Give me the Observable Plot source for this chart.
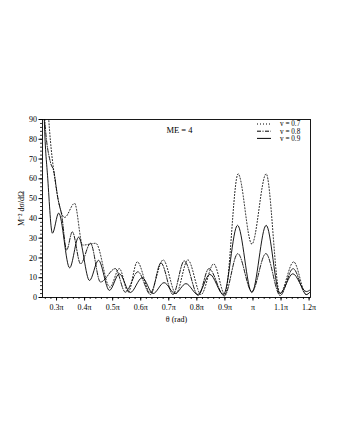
<!DOCTYPE html>
<html><head><meta charset="utf-8">
<script src="https://cdn.jsdelivr.net/npm/d3@7"></script>
<script src="https://cdn.jsdelivr.net/npm/@observablehq/plot@0.6"></script>
<style>
body{margin:0;background:#fff;}
#wrap{position:relative;width:340px;height:440px;}
#legend{position:absolute;left:254px;top:119px;}
</style>
</head><body><div id="wrap"></div>
<script>
// series labels
const seriesNames = ["v = 0.7", "v = 0.8", "v = 0.9"];

// θ in units of π, values of M^-2 dσ/dΩ
const theta07 = [0.25, 0.2723, 0.2971, 0.329, 0.3644, 0.393, 0.44, 0.49, 0.5238, 0.5557, 0.5876, 0.6336, 0.68, 0.7257, 0.768, 0.815, 0.86, 0.9, 0.947, 0.996, 1.047, 1.096, 1.145, 1.19, 1.205];
const value07 = [150, 90, 57, 40.5, 47.6, 26.5, 27.4, 5.2, 14.6, 2.7, 18, 2.5, 19, 2, 19, 1.5, 17, 1.5, 62.5, 27, 62.5, 2, 18, 1.5, 3];

const theta08 = [0.25, 0.258, 0.279, 0.29, 0.305, 0.318, 0.336, 0.3563, 0.3857, 0.4211, 0.4565, 0.5096, 0.5451, 0.59, 0.635, 0.672, 0.715, 0.755, 0.805, 0.843, 0.898, 0.946, 0.996, 1.046, 1.097, 1.143, 1.19, 1.205];
const value08 = [140, 90, 68, 64, 50, 42, 24, 33.2, 17, 27.4, 7.8, 14.6, 2.7, 13, 1.5, 17.5, 1.5, 18.5, 1, 14.6, 0.8, 22.2, 3, 22.2, 1, 14.6, 1.5, 3];

const theta09 = [0.25, 0.2564, 0.2688, 0.2854, 0.3077, 0.3467, 0.3786, 0.4176, 0.4494, 0.4884, 0.5238, 0.5628, 0.6053, 0.6443, 0.6832, 0.7222, 0.7611, 0.8036, 0.8462, 0.895, 0.945, 0.996, 1.047, 1.096, 1.142, 1.19, 1.205];
const value09 = [125, 90, 60, 32.5, 42.7, 15, 30.5, 8.6, 18.8, 3.6, 12, 2.5, 10, 2, 7.5, 2, 7, 1.5, 11.7, 1.5, 36.5, 2.5, 36.5, 2, 12, 3, 4];

// axis ticks
const xTicks = [0.3, 0.4, 0.5, 0.6, 0.7, 0.8, 0.9, 1.0, 1.1, 1.2];
const xTickLabels = ["0.3π", "0.4π", "0.5π", "0.6π", "0.7π", "0.8π", "0.9π", "π", "1.1π", "1.2π"];
const yTicks = [0, 10, 20, 30, 40, 50, 60, 70, 80, 90];
const titleText = "ME = 4";
const xLabel = "θ (rad)";
const yLabel = "M⁻² dσ/dΩ";

const dashes = ["1,2", "4,1.5,1,1.5", null];

const toRows = (name, t, v) => t.map((x, i) => ({series: name, theta: x, value: v[i]}));
const rows = [
  toRows(seriesNames[0], theta07, value07),
  toRows(seriesNames[1], theta08, value08),
  toRows(seriesNames[2], theta09, value09)
];

const minorX = d3.range(0.26, 1.205, 0.02).map(d => +d.toFixed(3));
const minorY = d3.range(0, 90.01, 2);

const font = '"Liberation Serif", "Times New Roman", serif';

const plot = Plot.plot({
  width: 340, height: 440,
  marginTop: 119, marginBottom: 143, marginLeft: 42, marginRight: 30,
  style: {fontFamily: font, fontSize: "8px", background: "#fff", color: "#000"},
  x: {domain: [0.25, 1.205]},
  y: {domain: [0, 90]},
  marks: [
    Plot.frame({stroke: "#000", strokeWidth: 0.9}),
    Plot.axisX({ticks: minorX, tickSize: 2, text: null, label: null, strokeWidth: 0.8}),
    Plot.axisX({ticks: xTicks, tickSize: 3.5, tickPadding: 3, tickFormat: d => xTickLabels[xTicks.indexOf(d)],
      label: xLabel, labelAnchor: "center", labelArrow: "none", labelOffset: 24, fontSize: 8}),
    Plot.axisY({ticks: minorY, tickSize: 2, text: null, label: null, strokeWidth: 0.8}),
    Plot.axisY({ticks: yTicks, tickSize: 3.5, tickPadding: 2,
      label: yLabel, labelAnchor: "center", labelArrow: "none", labelOffset: 24, fontSize: 8}),
    ...rows.map((r, i) => Plot.line(r, {x: "theta", y: "value", curve: "monotone-x", stroke: "#000",
      strokeWidth: 0.9, strokeDasharray: dashes[i], clip: true})),
    Plot.text([titleText], {frameAnchor: "top", dx: 3, dy: 7, fontSize: 8.5})
  ]
});
document.getElementById("wrap").appendChild(plot);

// legend overlay
const lg = d3.select("#wrap").append("svg").attr("id", "legend").attr("width", 56).attr("height", 26);
seriesNames.forEach((name, i) => {
  const y = 5 + i * 7.2;
  lg.append("line").attr("x1", 3).attr("x2", 17).attr("y1", y).attr("y2", y)
    .attr("stroke", "#000").attr("stroke-width", 1).attr("stroke-dasharray", dashes[i]);
  lg.append("text").attr("x", 26).attr("y", y + 2.3).text(name)
    .attr("font-family", font).attr("font-size", 7.2);
});
</script>
</body></html>
